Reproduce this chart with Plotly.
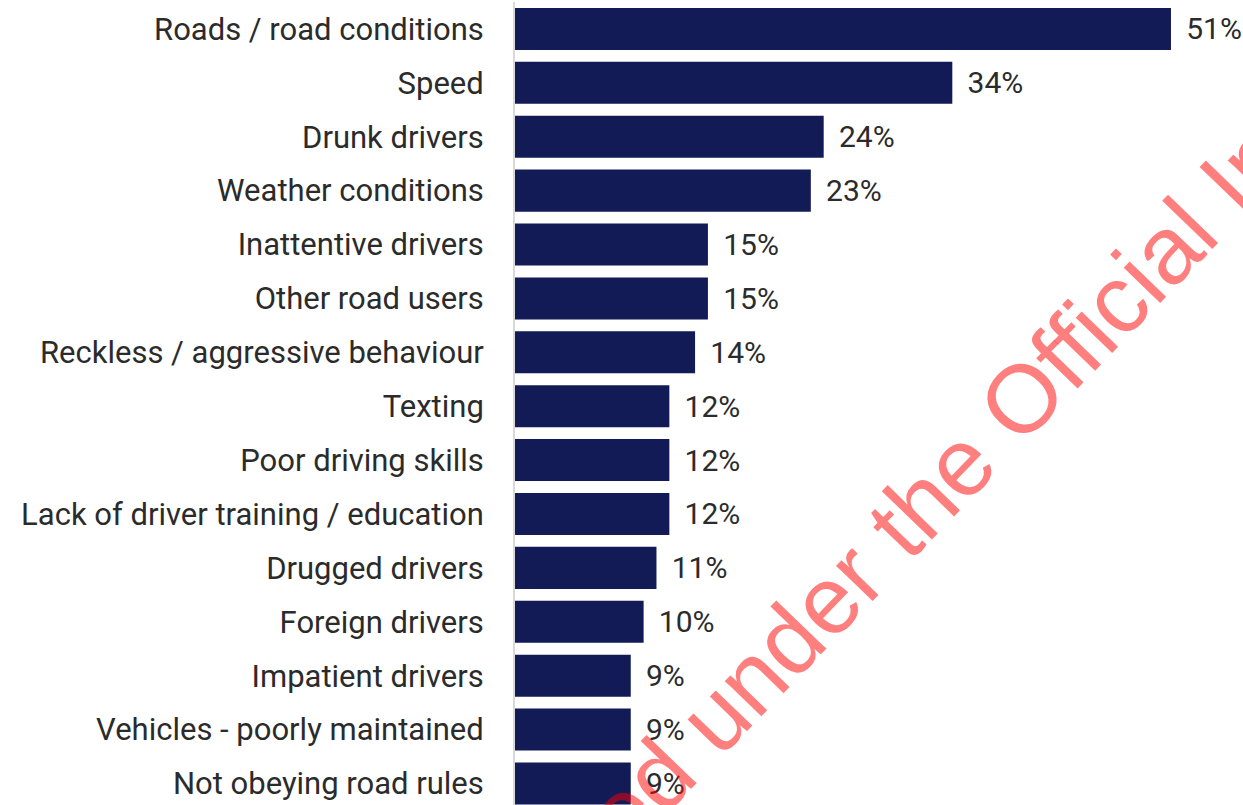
import plotly.graph_objects as go

# causes of crashes, top to bottom
causes = [
    "Roads / road conditions",
    "Speed",
    "Drunk drivers",
    "Weather conditions",
    "Inattentive drivers",
    "Other road users",
    "Reckless / aggressive behaviour",
    "Texting",
    "Poor driving skills",
    "Lack of driver training / education",
    "Drugged drivers",
    "Foreign drivers",
    "Impatient drivers",
    "Vehicles - poorly maintained",
    "Not obeying road rules",
]
share = [51, 34, 24, 23, 15, 15, 14, 12, 12, 12, 11, 10, 9, 9, 9]

fig = go.Figure(
    go.Bar(
        x=share,
        y=causes,
        orientation="h",
        marker=dict(color="#131B57", line=dict(width=0)),
        text=[f"{v}%" for v in share],
        texttemplate="\u2009\u2009%{text}",
        textposition="outside",
        textfont=dict(family="Roboto", size=30, color="#2B2B2B"),
        cliponaxis=False,
        width=0.78,
    )
)

fig.update_yaxes(
    type="category",
    range=[14.4, -0.5],
    showgrid=False,
    showline=True,
    linecolor="#D9D9D9",
    linewidth=2,
    ticks="",
    ticklabelstandoff=23,
    tickfont=dict(family="Roboto", size=31, color="#2B2B2B"),
)
fig.update_xaxes(range=[0, 56.6], visible=False)

# watermark
fig.add_annotation(
    text="Released under the Official Information Act",
    xref="paper", yref="paper",
    x=0.705, y=0.515,
    xanchor="center", yanchor="middle",
    showarrow=False,
    textangle=-46,
    font=dict(family="Liberation Sans", size=96, color="rgba(255,0,0,0.5)"),
)

fig.update_layout(
    width=1243,
    height=805,
    margin=dict(l=515, r=0, t=2, b=0),
    plot_bgcolor="white",
    paper_bgcolor="white",
    showlegend=False,
    bargap=0.22,
)

fig.write_html(
    "out.html",
    config={"displayModeBar": False},
    post_script="document.body.style.margin='0';",
)
